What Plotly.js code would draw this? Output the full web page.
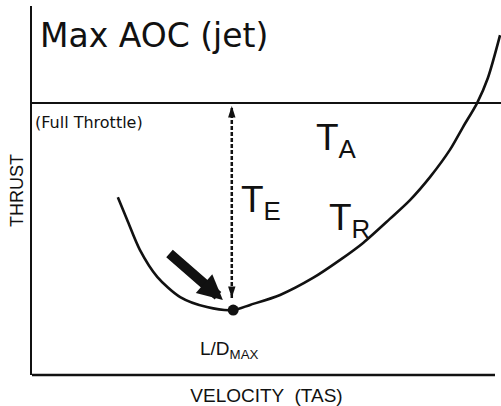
<!DOCTYPE html>
<html>
<head>
<meta charset="utf-8">
<script src="https://cdn.plot.ly/plotly-3.0.1.min.js"></script>
<style>html,body{margin:0;padding:0;background:#fff;}#chart{width:501px;height:406px;}</style>
</head>
<body>
<div id="chart"></div>
<script>
// Thrust required curve (velocity TAS, thrust)
var velocity = [18.3, 20.3, 23.0, 26.7, 31.6, 37.3, 42.9, 46.5, 52.9, 59.9, 65.7, 70.6, 76.3, 80.6, 84.9, 89.1, 91.9, 94.9, 97.2, 99.8];
var thrustRequired = [48.2, 42.0, 33.9, 26.6, 21.1, 18.4, 17.6, 19.0, 21.7, 26.3, 31.2, 35.8, 42.3, 47.4, 53.7, 61.0, 67.2, 73.7, 80.5, 92.1];
// Full throttle thrust available
var fullThrottleV = [0, 100];
var fullThrottleT = [73.7, 73.7];
// L/D max point
var ldMaxV = [42.9];
var ldMaxT = [17.6];
// Excess thrust arrow (from the curve up to full throttle)
var excessV = [42.6, 42.6];
var excessT = [20.9, 72.9];
// Pointer arrow toward L/D max
var pointerTail = [29.0, 33.3];
var pointerTip = [40.7, 20.3];

var ink = '#111';
function X(px){ return (px - 32) / 4.69; }
function Y(py){ return (375 - py) / 3.69; }

var traces = [
  {x: fullThrottleV, y: fullThrottleT, mode: 'lines', line: {color: ink, width: 2}, hoverinfo: 'skip'},
  {x: velocity, y: thrustRequired, mode: 'lines', line: {color: ink, width: 2.6, shape: 'spline', smoothing: 0.8}, hoverinfo: 'skip'},
  {x: excessV, y: excessT, mode: 'lines+markers', line: {color: ink, width: 2.5, dash: '4px,2px'},
   marker: {symbol: 'arrow', size: 12, angle: [180, 0], color: ink}, hoverinfo: 'skip'},
  {x: ldMaxV, y: ldMaxT, mode: 'markers', marker: {color: ink, size: 11}, hoverinfo: 'skip'}
];

var sansA = 'Liberation Sans, Arial, sans-serif';
var sansD = 'DejaVu Sans, sans-serif';

var layout = {
  width: 501, height: 406,
  margin: {l: 32, r: 0, t: 6, b: 31},
  paper_bgcolor: '#fff', plot_bgcolor: '#fff',
  showlegend: false,
  title: {text: 'Max AOC (jet)', xref: 'paper', x: 8 / 469, xanchor: 'left', yref: 'container', y: 1 - 35 / 406, yanchor: 'middle',
          font: {family: sansD, size: 33, color: ink}},
  xaxis: {range: [0, 100], showgrid: false, zeroline: false, showticklabels: false, ticks: '', showline: false, fixedrange: true,
          title: {text: 'VELOCITY  (TAS)', standoff: 13, font: {family: sansA, size: 19, color: ink}}, automargin: false},
  yaxis: {range: [0, 100], showgrid: false, zeroline: false, showticklabels: false, ticks: '', showline: true, linecolor: ink, linewidth: 2.5, fixedrange: true,
          title: {text: 'THRUST', standoff: 1, font: {family: sansA, size: 18, color: ink}}, automargin: false},
  shapes: [
    {type: 'line', xref: 'paper', yref: 'paper', x0: 0, x1: (495 - 32) / 469, y0: 0, y1: 0, line: {color: ink, width: 2.5}}
  ],
  annotations: [
    {text: '(Full Throttle)', x: X(33), y: Y(122), xref: 'x', yref: 'y', xanchor: 'left', yanchor: 'middle', showarrow: false, font: {family: sansD, size: 16, color: ink}},
    {text: 'T<sub>A</sub>', x: X(314), y: Y(140), xref: 'x', yref: 'y', xanchor: 'left', yanchor: 'middle', showarrow: false, font: {family: sansA, size: 37, color: ink}},
    {text: 'T<sub>E</sub>', x: X(239), y: Y(202), xref: 'x', yref: 'y', xanchor: 'left', yanchor: 'middle', showarrow: false, font: {family: sansA, size: 37, color: ink}},
    {text: 'T<sub>R</sub>', x: X(327), y: Y(220), xref: 'x', yref: 'y', xanchor: 'left', yanchor: 'middle', showarrow: false, font: {family: sansA, size: 37, color: ink}},
    {text: 'L/D<sub>MAX</sub>', x: X(198), y: Y(350), xref: 'x', yref: 'y', xanchor: 'left', yanchor: 'middle', showarrow: false, font: {family: sansA, size: 19, color: ink}},
    {text: '', x: pointerTip[0], y: pointerTip[1], ax: pointerTail[0], ay: pointerTail[1], xref: 'x', yref: 'y', axref: 'x', ayref: 'y',
     showarrow: true, arrowhead: 2, arrowwidth: 10, arrowsize: 0.5, arrowcolor: ink, standoff: 0, startstandoff: 0}
  ]
};

Plotly.newPlot('chart', traces, layout, {displayModeBar: false, staticPlot: true});
</script>
</body>
</html>
